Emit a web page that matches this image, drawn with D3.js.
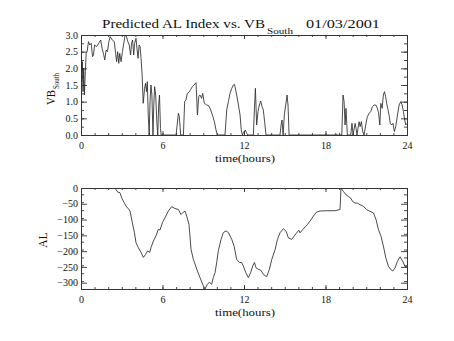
<!DOCTYPE html>
<html><head><meta charset="utf-8">
<script src="https://cdn.jsdelivr.net/npm/d3@7"></script>
<style>
html,body{margin:0;padding:0;background:#fff;}
text{font-family:"Liberation Serif","DejaVu Serif",serif;fill:#111;}
</style></head>
<body>
<script>
// ---- data ----
const titleMain = "Predicted AL Index vs. VB";
const titleSub = "South";
const titleDate = "01/03/2001";
const xLabel = "time(hours)";
const xTicks = [0, 6, 12, 18, 24];
const vbTicks = [0.0, 0.5, 1.0, 1.5, 2.0, 2.5, 3.0];
const alTicks = [0, -50, -100, -150, -200, -250, -300];

const vbTime = [0.0,0.05,0.1,0.15,0.2,0.25,0.32,0.38,0.45,0.55,0.65,0.75,0.85,0.92,1.0,1.15,1.3,1.45,1.55,1.65,1.75,1.85,1.95,2.05,2.15,2.3,2.45,2.55,2.62,2.7,2.78,2.85,2.95,3.05,3.15,3.25,3.35,3.45,3.55,3.65,3.72,3.8,3.88,3.95,4.05,4.12,4.2,4.28,4.35,4.42,4.5,4.58,4.68,4.75,4.82,4.88,4.95,5.02,5.08,5.15,5.22,5.3,5.36,5.42,5.5,5.58,5.65,5.72,5.78,5.85,5.9,
7.0,7.17,7.24,7.34,7.54,7.63,7.73,7.83,7.98,8.08,8.2,8.32,8.47,8.57,8.67,8.76,8.88,8.96,9.08,9.25,9.4,9.55,9.7,9.82,9.94,10.04,
10.6,10.73,10.85,10.97,11.1,11.22,11.29,11.34,11.46,11.59,11.71,11.8,11.88,12.0,12.1,12.2,12.28,
12.69,12.77,12.84,12.93,13.03,13.13,13.23,13.33,13.42,13.52,13.62,
14.65,14.73,14.8,14.88,14.97,15.07,15.17,15.24,15.32,
18.7,18.75,18.8,19.2,19.29,19.37,19.44,19.51,19.61,
19.86,19.95,20.03,20.18,20.25,20.32,20.47,20.55,20.64,20.74,20.84,20.96,21.08,21.21,21.33,21.45,21.58,21.7,21.8,21.9,22.0,22.07,22.17,22.26,22.34,22.43,22.5,22.58,22.68,22.77,22.87,22.97,23.07,23.17,23.3,23.42,23.54,23.64,23.74,23.83,23.91,24.0];
const vbValue = [2.1,1.6,2.2,1.3,2.0,1.2,1.9,2.45,2.5,2.8,2.7,2.75,2.35,2.4,2.7,2.65,2.75,2.85,2.6,2.45,2.25,2.55,2.5,2.8,2.95,2.85,2.8,2.45,2.2,2.5,2.15,2.45,2.2,2.5,2.75,3.0,2.95,2.8,2.7,2.4,2.75,2.85,2.4,2.75,2.9,2.6,2.3,2.7,2.65,2.3,1.8,0.95,1.4,1.55,1.3,1.6,0.6,0.0,1.0,1.5,1.2,0.0,0.9,1.45,1.2,0.4,0.0,0.9,1.2,0.2,0.0,
0.0,0.65,0.55,0.0,0.0,1.0,1.05,1.25,1.3,1.37,1.45,1.5,1.57,0.6,1.15,1.2,1.1,1.25,0.95,0.9,0.88,0.75,0.57,0.4,0.15,0.0,
0.0,0.75,1.0,1.25,1.4,1.5,1.52,1.45,1.2,0.9,0.6,0.15,0.0,0.1,0.15,0.05,0.0,
0.0,0.8,1.4,0.3,0.7,0.9,1.02,0.85,0.75,0.4,0.0,
0.0,0.3,0.45,0.0,0.6,0.9,1.2,0.9,0.0,
0.0,0.05,0.0,0.0,1.2,1.0,0.3,0.8,0.0,
0.0,0.35,0.0,0.35,0.2,0.0,0.4,0.25,0.4,0.1,0.0,0.3,0.55,0.65,0.7,0.85,0.9,0.9,0.82,0.68,0.3,0.95,0.8,1.2,1.3,1.15,0.95,0.8,0.6,0.35,0.3,0.35,0.1,0.25,0.6,0.9,1.0,0.9,0.7,0.45,0.3,0.35];

const alTime = [2.5,2.7,2.87,2.99,3.17,3.31,3.49,3.61,3.78,3.93,4.05,4.22,4.42,4.59,4.76,4.91,5.06,5.15,5.33,5.52,5.69,5.82,5.99,6.19,6.43,6.68,6.92,7.17,7.36,7.49,7.66,7.78,7.95,8.1,8.27,8.52,8.76,9.01,9.13,9.3,9.45,9.62,9.74,9.87,9.99,10.11,10.31,10.48,10.68,10.85,11.1,11.27,11.46,11.66,11.83,11.95,12.13,12.32,12.49,12.64,12.77,12.89,13.06,13.23,13.43,13.67,13.87,14.04,14.29,14.46,14.65,14.9,15.1,15.27,15.51,15.68,15.88,16.03,16.13,16.32,16.5,16.67,16.86,17.11,17.35,17.6,18.09,18.7,19.07,19.14,19.32,19.52,19.69,19.86,20.0,20.18,20.35,20.55,20.79,21.04,21.28,21.53,21.72,21.9,22.09,22.26,22.44,22.63,22.8,22.95,23.12,23.3,23.49,23.68,23.85,24.0];
const alValue = [0,-13,-15,-31,-46,-57,-66,-73,-110,-141,-173,-189,-204,-220,-210,-199,-204,-189,-168,-152,-131,-133,-110,-94,-73,-59,-65,-68,-84,-78,-73,-89,-115,-194,-226,-257,-284,-310,-320,-305,-299,-305,-284,-268,-236,-199,-163,-141,-136,-141,-163,-184,-226,-236,-236,-247,-268,-284,-268,-247,-236,-253,-258,-260,-274,-281,-258,-227,-195,-163,-142,-129,-137,-158,-163,-153,-142,-134,-142,-132,-123,-116,-105,-89,-76,-73,-72,-72,-68,0,-11,-22,-27,-32,-43,-48,-48,-53,-58,-69,-74,-79,-100,-132,-153,-184,-221,-248,-258,-263,-253,-232,-218,-232,-248,-250];

// ---- drawing ----
const W = 454, H = 341;
const svg = d3.select("body").append("svg").attr("width", W).attr("height", H)
  .style("background", "#fff");

const plotL = 81, plotR = 407;
const x = d3.scaleLinear().domain([0, 24]).range([plotL, plotR]);
const axisColor = "#333";

function panel(id, top, bottom, yDomain, yTicks, yMinorStep, fmt, times, values) {
  const y = d3.scaleLinear().domain(yDomain).range([bottom, top]);
  const g = svg.append("g");
  const hgt = bottom - top, wid = plotR - plotL;
  const xMinor = d3.range(0, 24.001, 1);
  const yMinor = d3.range(yDomain[0], yDomain[1] + 1e-9, yMinorStep);

  svg.append("clipPath").attr("id", id).append("rect")
    .attr("x", plotL).attr("y", top).attr("width", wid).attr("height", hgt);

  g.append("g").attr("transform", `translate(0,${bottom})`)
    .call(d3.axisBottom(x).tickValues(xTicks).tickSize(-4).tickPadding(7).tickFormat(d3.format("d")));
  g.append("g").attr("transform", `translate(0,${bottom})`)
    .call(d3.axisBottom(x).tickValues(xMinor).tickSize(-2).tickFormat(""));
  g.append("g").attr("transform", `translate(0,${top})`)
    .call(d3.axisTop(x).tickValues(xTicks).tickSize(-4).tickFormat(""));
  g.append("g").attr("transform", `translate(0,${top})`)
    .call(d3.axisTop(x).tickValues(xMinor).tickSize(-2).tickFormat(""));
  g.append("g").attr("transform", `translate(${plotL},0)`)
    .call(d3.axisLeft(y).tickValues(yTicks).tickSize(-6).tickPadding(3).tickFormat(fmt));
  g.append("g").attr("transform", `translate(${plotL},0)`)
    .call(d3.axisLeft(y).tickValues(yMinor).tickSize(-3).tickFormat(""));
  g.append("g").attr("transform", `translate(${plotR},0)`)
    .call(d3.axisRight(y).tickValues(yTicks).tickSize(-6).tickFormat(""));
  g.append("g").attr("transform", `translate(${plotR},0)`)
    .call(d3.axisRight(y).tickValues(yMinor).tickSize(-3).tickFormat(""));

  g.selectAll(".domain").attr("stroke", axisColor).attr("stroke-width", 0.9);
  g.selectAll(".tick line").attr("stroke", axisColor).attr("stroke-width", 0.9);
  g.selectAll(".tick text").style("font-family", '"Liberation Serif", serif')
    .style("font-size", "10px").attr("fill", "#222");

  g.append("text").attr("x", (plotL + plotR) / 2 + 1).attr("y", bottom + 27)
    .attr("text-anchor", "middle").style("font-size", "11px").attr("fill", "#222")
    .attr("textLength", 60).attr("lengthAdjust", "spacingAndGlyphs").text(xLabel);

  const pts = times.map((t, i) => [t, values[i]]);
  svg.append("path").datum(pts)
    .attr("clip-path", `url(#${id})`)
    .attr("fill", "none").attr("stroke", "#2a2a2a").attr("stroke-width", 0.85)
    .attr("d", d3.line().x(d => x(d[0])).y(d => y(d[1])));
  return {g, y};
}

panel("c1", 35, 135, [0, 3], vbTicks, 0.25, d3.format(".1f"), vbTime, vbValue);
panel("c2", 188, 289, [-320, 0], alTicks, 25, d => d === 0 ? "0" : "\u2212" + Math.abs(d), alTime, alValue);

const t = svg.append("text").attr("y", 28).style("font-size", "13px").attr("fill", "#222");
t.append("tspan").attr("x", 102).attr("textLength", 163).attr("lengthAdjust", "spacingAndGlyphs").text(titleMain);
t.append("tspan").attr("x", 267).attr("y", 34).style("font-size", "8.5px")
  .attr("textLength", 26).attr("lengthAdjust", "spacingAndGlyphs").text(titleSub);
t.append("tspan").attr("x", 306).attr("y", 28)
  .attr("textLength", 74).attr("lengthAdjust", "spacingAndGlyphs").text(titleDate);

const yl1 = svg.append("text").attr("transform", "translate(55,105) rotate(-90)")
  .style("font-size", "11.5px").attr("fill", "#222");
yl1.append("tspan").attr("x", 0).attr("y", 0).attr("textLength", 15).attr("lengthAdjust", "spacingAndGlyphs").text("VB");
yl1.append("tspan").attr("x", 16).attr("y", 4).style("font-size", "8px")
  .attr("textLength", 16).attr("lengthAdjust", "spacingAndGlyphs").text("South");

svg.append("text").attr("transform", "translate(47,240) rotate(-90)")
  .attr("text-anchor", "middle").style("font-size", "11.5px").attr("fill", "#222").text("AL");
</script>
</body></html>
